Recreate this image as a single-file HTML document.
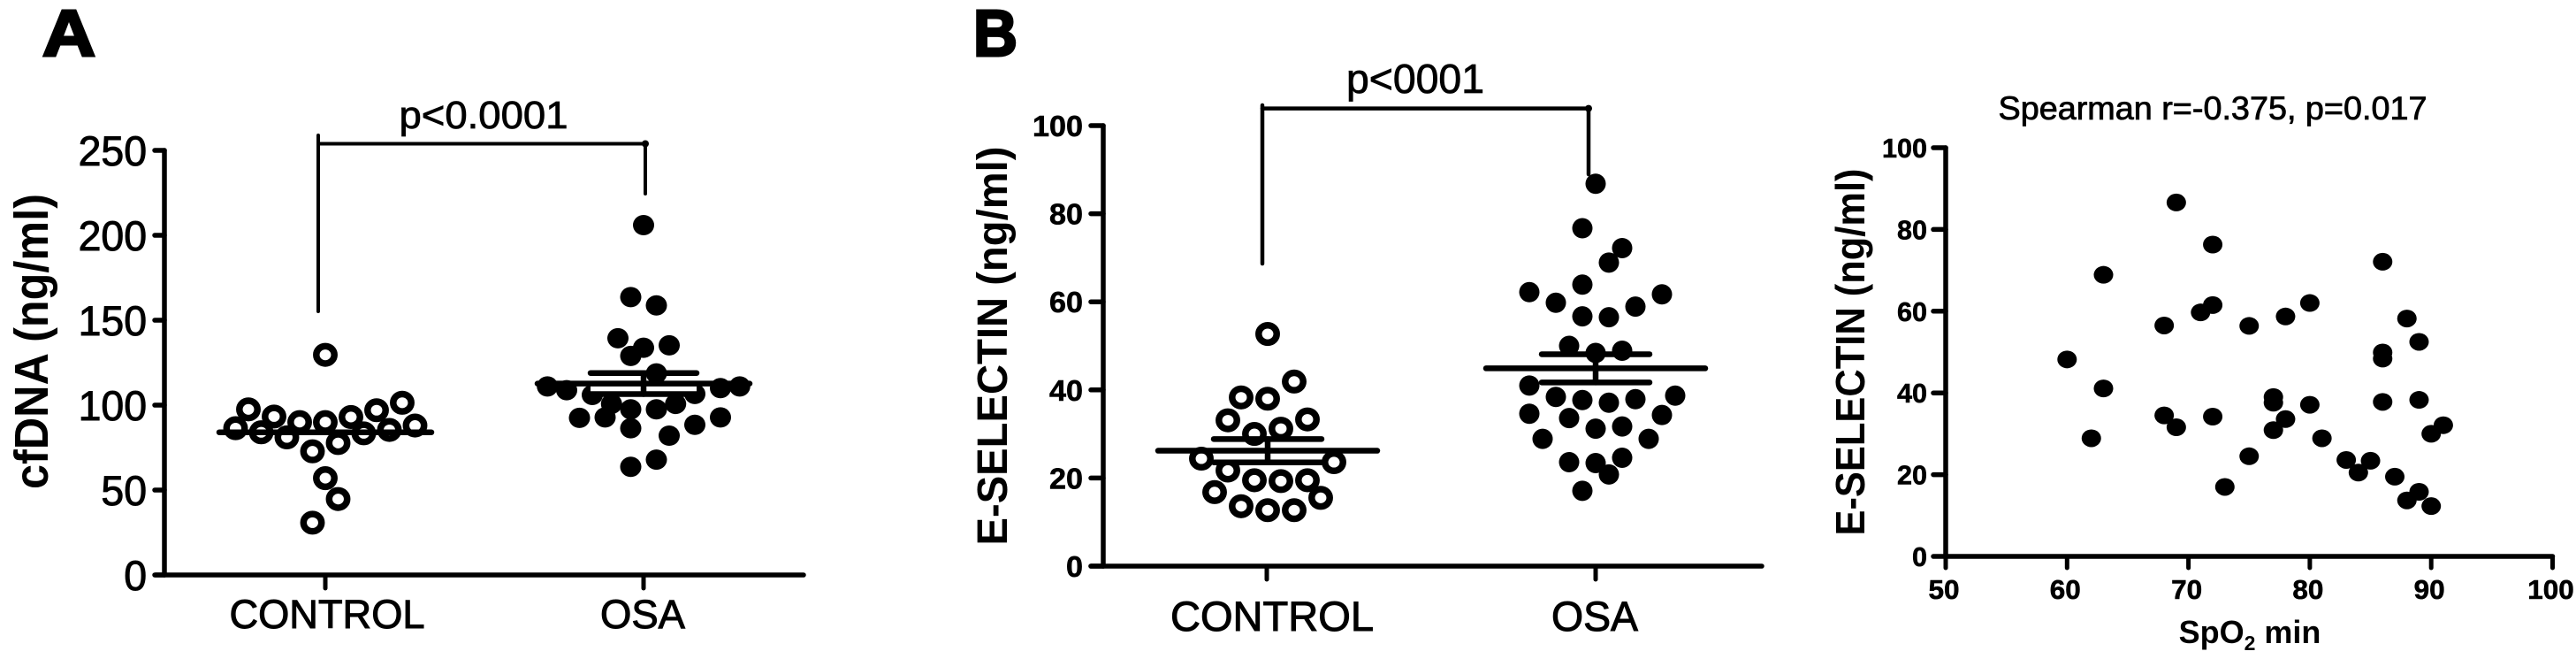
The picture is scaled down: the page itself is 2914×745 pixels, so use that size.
<!DOCTYPE html>
<html lang="en">
<head>
<meta charset="utf-8">
<title>cfDNA and E-selectin in control and OSA groups</title>
<style>
html,body{margin:0;padding:0;background:#fff;}
svg{display:block;}
text{font-family:"Liberation Sans",Arial,sans-serif;fill:#000;}
</style>
</head>
<body>
<svg id="figure" xmlns="http://www.w3.org/2000/svg" width="2914" height="745" viewBox="0 0 2914 745">
  <rect width="2914" height="745" fill="#fff"/>
  <text x="78" y="63" text-anchor="middle" font-size="74" font-weight="bold" stroke="#000" stroke-width="3" textLength="60" lengthAdjust="spacingAndGlyphs">A</text>
  <text x="1126" y="63" text-anchor="middle" font-size="74" font-weight="bold" stroke="#000" stroke-width="3" textLength="50" lengthAdjust="spacingAndGlyphs">B</text>
  <text transform="translate(54 386) rotate(-90)" text-anchor="middle" font-size="54" font-weight="bold" textLength="334" lengthAdjust="spacingAndGlyphs">cfDNA (ng/ml)</text>
  <text transform="translate(1139 391) rotate(-90)" text-anchor="middle" font-size="48" font-weight="bold" textLength="451" lengthAdjust="spacingAndGlyphs">E-SELECTIN (ng/ml)</text>
  <text transform="translate(2109 398) rotate(-90)" text-anchor="middle" font-size="46" font-weight="bold" textLength="415" lengthAdjust="spacingAndGlyphs">E-SELECTIN (ng/ml)</text>
  <text x="547" y="145" text-anchor="middle" font-size="44" stroke="#000" stroke-width="0.8" textLength="191" lengthAdjust="spacingAndGlyphs">p&lt;0.0001</text>
  <text x="1601" y="105" text-anchor="middle" font-size="46" stroke="#000" stroke-width="0.8" textLength="156" lengthAdjust="spacingAndGlyphs">p&lt;0001</text>
  <text x="2503" y="135" text-anchor="middle" font-size="37" stroke="#000" stroke-width="0.8" textLength="485" lengthAdjust="spacingAndGlyphs">Spearman r=-0.375, p=0.017</text>
  <text x="2545" y="727" text-anchor="middle" font-size="36" font-weight="bold">SpO<tspan font-size="23" dy="8">2</tspan><tspan dy="-8"> min</tspan></text>
</svg>
<script>
// Panel A: cfDNA (ng/ml)
const aCategories = ['CONTROL', 'OSA'];
const aYTicks = [0, 50, 100, 150, 200, 250];
const aControlValues = [129.6, 101.4, 97, 97.5, 93, 93.3, 90, 90, 88, 86.4, 84, 85.4, 83.4, 81, 77.7, 72.8, 57, 44.7, 30.8];
const aControlSwarmSlots = [0, 6, 4, -6, 2, -4, -2, 0, 7, -7, -5, 5, 3, -3, 1, -1, 0, 1, -1];
const aOsaValues = [206, 163.6, 158.7, 139.4, 135.2, 133.8, 129, 118.7, 111, 111, 108.8, 110, 106, 106.6, 100.7, 100.7, 97.5, 97.5, 92.5, 92.8, 92.8, 88.4, 86.4, 82, 67.9, 63.7];
const aOsaSwarmSlots = [0, -1, 1, -2, 2, 0, -1, 1, -7.5, 7.5, -6, 6, -4, 4, -2.5, 2.5, -1, 1, -5, -3, 6, 4, -1, 2, 1, -1];
const aMeans = [84, 112.7];
const aSems = [0, 6.2];

// Panel B: E-selectin (ng/ml)
const bCategories = ['CONTROL', 'OSA'];
const bYTicks = [0, 20, 40, 60, 80, 100];
const bControlValues = [52.7, 41.9, 38.3, 38, 33.1, 33.3, 31.2, 30, 24.4, 23.6, 21.7, 19.5, 19.3, 19.5, 16.8, 15.5, 13.6, 12.7, 12.7];
const bControlSwarmSlots = [0, 2, -2, 0, -3, 3, 1, -1, -5, 5, -3, -1, 1, 3, -4, 4, -2, 0, 2];
const bOsaValues = [86.8, 76.7, 72.2, 68.9, 63.9, 62.2, 61.7, 59.8, 58.9, 56.7, 56.5, 50, 48.9, 48.4, 41, 38.7, 38.4, 37.9, 37.7, 37.1, 34.6, 34.3, 33.6, 31.7, 31.2, 28.9, 28.9, 23.6, 23.4, 24.6, 20.8, 17.1];
const bOsaSwarmSlots = [0, -1, 2, 1, -1, -5, 5, -3, 3, -1, 1, -2, 2, 0, -5, 6, -3, 3, -1, 1, -5, 5, -2, 2, 0, -4, 4, -2, 0, 2, 1, -1];
const bMeans = [26.2, 44.9];
const bSems = [2.65, 3.2];

// Panel C: E-selectin vs SpO2 min
const cXTicks = [50, 60, 70, 80, 90, 100];
const cYTicks = [0, 20, 40, 60, 80, 100];
const cSpo2 = [69, 72, 86, 63, 72, 71, 80, 78, 68, 75, 88, 89, 86, 86, 60, 63, 77, 77, 86, 89, 80, 68, 72, 78, 69, 77, 91, 90, 62, 81, 75, 83, 85, 84, 87, 73, 89, 88, 90];
const cSelectin = [86.6, 76.3, 72.1, 68.9, 61.5, 59.7, 62, 58.7, 56.5, 56.4, 58.2, 52.5, 49.9, 48.4, 48.2, 41.1, 39, 37.6, 37.8, 38.3, 37.1, 34.5, 34.2, 33.6, 31.6, 30.9, 32.1, 30, 28.9, 28.9, 24.5, 23.6, 23.4, 20.5, 19.5, 17, 15.8, 13.7, 12.3];

const SVGNS = 'http://www.w3.org/2000/svg';
const figure = document.getElementById('figure');

function mk(tag, attrs, parent) {
  const el = document.createElementNS(SVGNS, tag);
  for (const k in attrs) el.setAttribute(k, attrs[k]);
  parent.appendChild(el);
  return el;
}
function makeLinear(d0, d1, r0, r1) {
  return function (v) { return r0 + (v - d0) * (r1 - r0) / (d1 - d0); };
}
function drawLine(parent, name, x1, y1, x2, y2, width, cap) {
  const el = mk('line', { x1: x1, y1: y1, x2: x2, y2: y2, stroke: '#000', 'stroke-width': width, 'stroke-linecap': cap || 'round' }, parent);
  
  
  return el;
}
function drawLabel(parent, name, str, x, y, size, weight, anchor, fitWidth, halo) {
  const el = mk('text', { x: x, y: y, 'font-size': size, 'font-weight': weight, 'text-anchor': anchor, textLength: fitWidth, lengthAdjust: 'spacingAndGlyphs', stroke: '#000', 'stroke-width': halo }, parent);
  el.textContent = str;
  
  
  return el;
}
function drawFilledDot(parent, x, y, rx, ry) {
  const el = mk('ellipse', { cx: x, cy: y, rx: rx, ry: ry, fill: '#000' }, parent);
  
  
  return el;
}
function drawOpenDot(parent, x, y) {
  const el = mk('ellipse', { cx: x, cy: y, rx: 10.2, ry: 9.8, fill: 'none', stroke: '#000', 'stroke-width': 7.5 }, parent);
  
  
  return el;
}
function drawSummary(parent, cx, yOf, mean, sem, meanHalf, capHalf) {
  if (sem > 0) {
    const band = mk('rect', { x: cx - capHalf, y: yOf(mean), width: capHalf * 2, height: yOf(mean - sem) - yOf(mean), fill: '#fff' }, parent);
    
    
    drawLine(parent, 'sem-upper-cap', cx - capHalf, yOf(mean + sem), cx + capHalf, yOf(mean + sem), 6.5);
    drawLine(parent, 'sem-lower-cap', cx - capHalf, yOf(mean - sem), cx + capHalf, yOf(mean - sem), 6.5);
    drawLine(parent, 'sem-stem', cx, yOf(mean + sem), cx, yOf(mean - sem), 6.5);
  }
  drawLine(parent, 'mean-line', cx - meanHalf, yOf(mean), cx + meanHalf, yOf(mean), 6.5);
}

/* ---------- Panel A ---------- */
const aGroup = mk('g', {}, figure);


const aY = makeLinear(0, 250, 650, 170);
const aCenters = [368, 728];
const aSlotStep = 14.5;
const aAxisX = 186;
drawLine(aGroup, 'y-axis-line', aAxisX, aY(250), aAxisX, aY(0), 5.5);
drawLine(aGroup, 'x-axis-line', 176, aY(0), 909, aY(0), 5.5);
aYTicks.forEach(function (t) {
  drawLine(aGroup, 'y-tick-' + t, 175, aY(t), aAxisX, aY(t), 5.5);
  drawLabel(aGroup, 'y-tick-label-' + t, String(t), 166, aY(t) + 17, 47, 'normal', 'end', String(t).length * 25.8, 1);
});
aCategories.forEach(function (c, i) {
  drawLine(aGroup, 'x-tick-' + c.toLowerCase(), aCenters[i], aY(0), aCenters[i], 665, 5);
});
drawLabel(aGroup, 'x-label-control', aCategories[0], 370, 710, 45, 'normal', 'middle', 221, 1);
drawLabel(aGroup, 'x-label-osa', aCategories[1], 727, 710, 45, 'normal', 'middle', 96, 1);
aControlValues.forEach(function (v, i) {
  drawOpenDot(aGroup, aCenters[0] + aControlSwarmSlots[i] * aSlotStep, aY(v));
});
aOsaValues.forEach(function (v, i) {
  drawFilledDot(aGroup, aCenters[1] + aOsaSwarmSlots[i] * aSlotStep, aY(v), 12, 11.5);
});
drawSummary(aGroup, aCenters[0], aY, aMeans[0], aSems[0], 120, 0);
drawSummary(aGroup, aCenters[1], aY, aMeans[1], aSems[1], 120, 60);
drawLine(aGroup, 'bracket-horizontal', 360, 162.5, 730, 162.5, 4);
drawLine(aGroup, 'bracket-left-drop', 360, 153, 360, 352, 4);
drawLine(aGroup, 'bracket-right-drop', 730, 162.5, 730, 219, 4);
const aBracketDot = mk('circle', { cx: 730, cy: 162.5, r: 4, fill: '#000' }, aGroup);



/* ---------- Panel B ---------- */
const bGroup = mk('g', {}, figure);


const bY = makeLinear(0, 100, 640, 142);
const bCenters = [1433, 1805];
const bSlotStep = 15;
const bAxisX = 1248;
drawLine(bGroup, 'y-axis-line', bAxisX, bY(100), bAxisX, bY(0), 5.5);
drawLine(bGroup, 'x-axis-line', 1234, bY(0), 1993, bY(0), 5.5);
bYTicks.forEach(function (t) {
  drawLine(bGroup, 'y-tick-' + t, 1234, bY(t), bAxisX, bY(t), 5.5);
  drawLabel(bGroup, 'y-tick-label-' + t, String(t), 1225, bY(t) + 12, 33, 'bold', 'end', String(t).length * 19, 0.6);
});
bCategories.forEach(function (c, i) {
  drawLine(bGroup, 'x-tick-' + c.toLowerCase(), bCenters[i], bY(0), bCenters[i], 655, 5);
});
drawLabel(bGroup, 'x-label-control', bCategories[0], 1439, 713, 47, 'normal', 'middle', 230, 1);
drawLabel(bGroup, 'x-label-osa', bCategories[1], 1804, 713, 47, 'normal', 'middle', 98, 1);
bControlValues.forEach(function (v, i) {
  drawOpenDot(bGroup, bCenters[0] + 1 + bControlSwarmSlots[i] * bSlotStep, bY(v));
});
bOsaValues.forEach(function (v, i) {
  drawFilledDot(bGroup, bCenters[1] + bOsaSwarmSlots[i] * bSlotStep, bY(v), 11.5, 11.5);
});
drawSummary(bGroup, bCenters[0] + 1, bY, bMeans[0], bSems[0], 124, 61);
drawSummary(bGroup, bCenters[1], bY, bMeans[1], bSems[1], 124, 61);
drawLine(bGroup, 'bracket-horizontal', 1428, 122.6, 1797, 122.6, 4.5);
drawLine(bGroup, 'bracket-left-drop', 1428, 119, 1428, 298, 4.5);
drawLine(bGroup, 'bracket-right-drop', 1797, 122.6, 1797, 197, 4.5);
const bBracketDot = mk('circle', { cx: 1797, cy: 122.6, r: 4, fill: '#000' }, bGroup);



/* ---------- Panel C ---------- */
const cGroup = mk('g', {}, figure);


const cX = makeLinear(50, 100, 2201, 2887.5);
const cY = makeLinear(0, 100, 629, 167);
drawLine(cGroup, 'y-axis-line', cX(50), cY(100), cX(50), cY(0), 5.5);
drawLine(cGroup, 'x-axis-line', cX(50), cY(0), cX(100), cY(0), 5.5);
cYTicks.forEach(function (t) {
  drawLine(cGroup, 'y-tick-' + t, 2187, cY(t), cX(50), cY(t), 5.5);
  drawLabel(cGroup, 'y-tick-label-' + t, String(t), 2180, cY(t) + 11, 31, 'bold', 'end', String(t).length * 17, 0.6);
});
cXTicks.forEach(function (t) {
  drawLine(cGroup, 'x-tick-' + t, cX(t), cY(0), cX(t), 642, 5);
  drawLabel(cGroup, 'x-tick-label-' + t, String(t), cX(t) - 2, 677, 31, 'bold', 'middle', String(t).length * 17.5, 0.6);
});
cSpo2.forEach(function (x, i) {
  drawFilledDot(cGroup, cX(x), cY(cSelectin[i]), 11, 10);
});
</script>
</body>
</html>
